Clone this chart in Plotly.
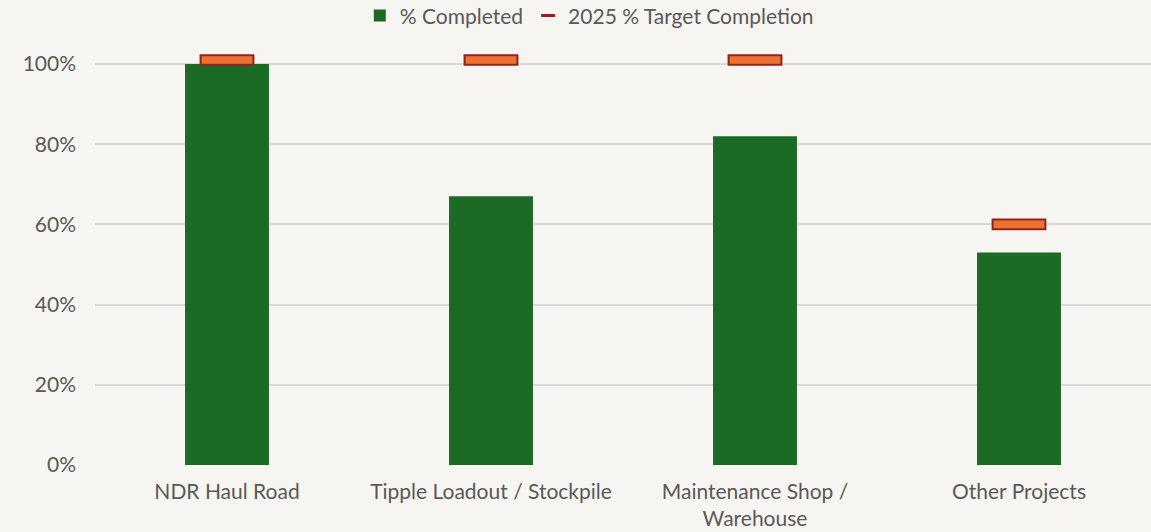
import plotly.graph_objects as go

categories = ["NDR Haul Road", "Tipple Loadout / Stockpile", "Maintenance Shop /<br>Warehouse", "Other Projects"]
completed = [100, 67, 82, 53]
targets = [101, 101, 101, 60]
tick_vals = [0, 20, 40, 60, 80, 100]
tick_text = ["0%", "20%", "40%", "60%", "80%", "100%"]

marker_h = 2.4
FONT = "Lato, 'Open Sans', sans-serif"
GRAY = "#595959"
FS = 21

fig = go.Figure()
fig.add_trace(go.Bar(
    x=categories, y=completed, name="% Completed",
    marker=dict(color="#1B6B24", line=dict(width=0)),
    width=0.318, hoverinfo="x+y",
))
fig.add_trace(go.Bar(
    x=categories, y=[marker_h] * len(targets), base=[t - marker_h / 2 for t in targets],
    name="2025 % Target Completion", showlegend=False,
    marker=dict(color="#ED7131", line=dict(color="#8E2420", width=2)),
    width=0.2,
))
fig.add_trace(go.Scatter(
    x=[None], y=[None], mode="markers", name="2025 % Target Completion",
    marker=dict(symbol="line-ew", size=10, line=dict(color="#9B1C1C", width=3)),
))

fig.update_layout(
    width=1151, height=532,
    paper_bgcolor="#F6F5F1", plot_bgcolor="#F6F5F1",
    barmode="overlay",
    margin=dict(l=95, r=0, t=52, b=67),
    font=dict(family=FONT, color=GRAY, size=FS),
    legend=dict(orientation="h", x=0.512, xanchor="center", xref="container",
                y=0.97, yanchor="middle", yref="container",
                font=dict(size=FS, color=GRAY), itemwidth=30,
                traceorder="normal"),
    xaxis=dict(showgrid=False, showline=False, ticks="", tickfont=dict(size=FS, color=GRAY),
               ticklabelstandoff=12, automargin=False),
    yaxis=dict(range=[0, 103], tickvals=tick_vals, ticktext=tick_text,
               showgrid=True, gridcolor="#D9D9D9", gridwidth=1.5, zeroline=False,
               tickfont=dict(size=FS, color=GRAY), ticklabelstandoff=18, automargin=False),
)
fig.write_html("out.html", config={"displayModeBar": False},
               post_script="document.body.style.margin='0';document.body.style.overflow='hidden';")
